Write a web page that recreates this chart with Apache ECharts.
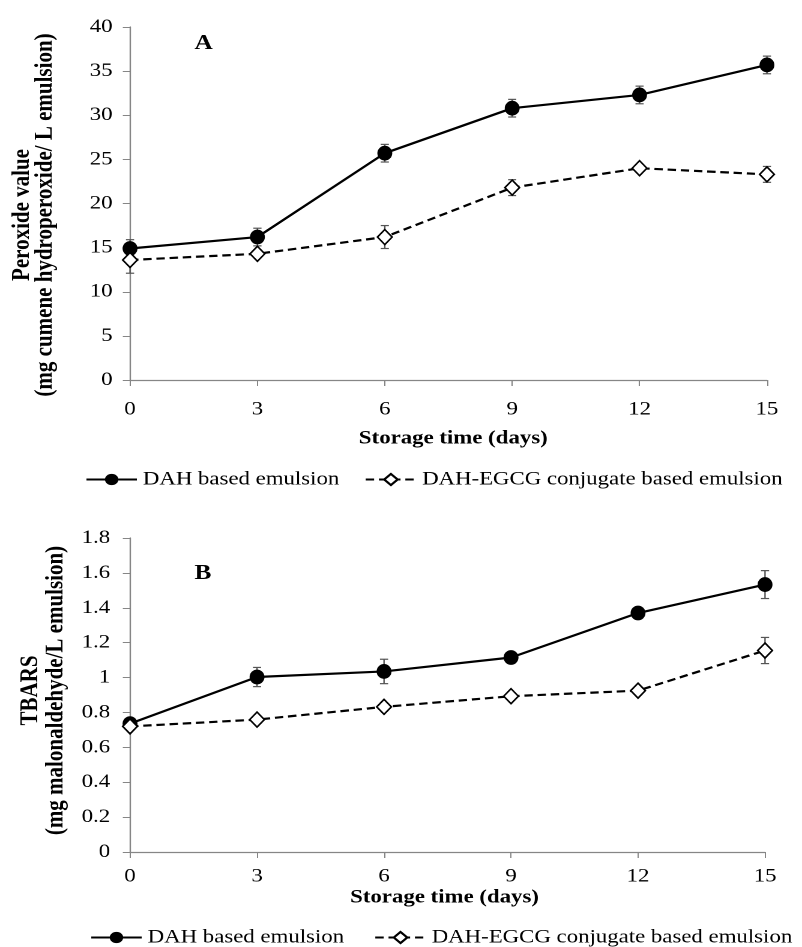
<!DOCTYPE html>
<html>
<head>
<meta charset="utf-8">
<script src="https://cdn.jsdelivr.net/npm/echarts@6/dist/echarts.min.js"></script>
<style>
  html, body { margin: 0; padding: 0; background: #fff; overflow: hidden; }
  /* The figure is drawn narrower and widened by the same factor, which gives
     the wide serif lettering of the printed figure. */
  #chart { width: 668px; height: 947px; transform: scaleX(1.2006); transform-origin: 0 0; }
</style>
</head>
<body>
<div id="chart"></div>
<script>
// Storage days
const days = [0, 3, 6, 9, 12, 15];
const xTicks = [0, 3, 6, 9, 12, 15];

// Peroxide value (mg cumene hydroperoxide / L emulsion)
const pvDAH = [14.9, 16.2, 25.7, 30.8, 32.3, 35.7];
const pvDAHErr = [1.0, 1.0, 1.0, 1.0, 1.0, 1.0];
const pvConj = [13.6, 14.3, 16.2, 21.8, 24.0, 23.3];
const pvConjErr = [1.5, 0.4, 1.3, 0.9, 0.3, 0.9];

// TBARS (mg malonaldehyde / L emulsion)
const tbDAH = [0.736, 1.003, 1.035, 1.115, 1.37, 1.533];
const tbDAHErr = [0.03, 0.055, 0.07, 0.02, 0.02, 0.08];
const tbConj = [0.72, 0.759, 0.832, 0.893, 0.925, 1.155];
const tbConjErr = [0.02, 0.02, 0.02, 0.02, 0.02, 0.075];

const nameDAH = 'DAH based emulsion';
const nameConj = 'DAH-EGCG conjugate based emulsion';

const FONT = "'Liberation Serif', 'Times New Roman', serif";
const AXIS_COLOR = '#868686';
const TEXT_COLOR = '#000';

function pairs(vals) { return days.map((d, i) => [d, vals[i]]); }
function ranges(vals, errs) { return days.map((d, i) => [d, vals[i] - errs[i], vals[i] + errs[i]]); }

function renderErrorBar(params, api) {
  const x = api.value(0);
  const lo = api.coord([x, api.value(1)]);
  const hi = api.coord([x, api.value(2)]);
  const half = 3.4;
  const style = { stroke: '#555', lineWidth: 1.2 };
  return {
    type: 'group',
    children: [
      { type: 'line', shape: { x1: lo[0], y1: lo[1], x2: hi[0], y2: hi[1] }, style },
      { type: 'line', shape: { x1: lo[0] - half, y1: lo[1], x2: lo[0] + half, y2: lo[1] }, style },
      { type: 'line', shape: { x1: hi[0] - half, y1: hi[1], x2: hi[0] + half, y2: hi[1] }, style }
    ]
  };
}

function xAxisFor(gridIndex, gap, labelMargin, namePad) {
  return {
    type: 'value', gridIndex, min: 0, max: 15, interval: 3,
    name: 'Storage time (days)', nameLocation: 'middle', nameGap: gap,
    nameTextStyle: { fontFamily: FONT, fontSize: 19, fontWeight: 'bold', color: TEXT_COLOR, padding: namePad },
    axisLine: { lineStyle: { color: AXIS_COLOR, width: 1.2 } },
    axisTick: { show: true, inside: false, length: 6, lineStyle: { color: AXIS_COLOR } },
    axisLabel: { fontFamily: FONT, fontSize: 19, color: TEXT_COLOR, margin: labelMargin,
      customValues: xTicks },
    splitLine: { show: false }
  };
}

function yAxisFor(gridIndex, max, interval, name, gap, lineH, pad, labelMargin) {
  return {
    type: 'value', gridIndex, min: 0, max, interval,
    name, nameLocation: 'middle', nameGap: gap, nameRotate: 90,
    nameTextStyle: { fontFamily: FONT, fontSize: 21, fontWeight: 'bold', color: TEXT_COLOR,
      lineHeight: lineH, padding: pad },
    axisLine: { show: true, lineStyle: { color: AXIS_COLOR, width: 1.2 } },
    axisTick: { show: true, inside: false, length: 6, lineStyle: { color: AXIS_COLOR } },
    axisLabel: { fontFamily: FONT, fontSize: 19, color: TEXT_COLOR, margin: labelMargin },
    splitLine: { show: false }
  };
}

function lineSeries(name, data, xi, yi, filled) {
  return {
    type: 'line', name, xAxisIndex: xi, yAxisIndex: yi, data,
    symbol: filled ? 'circle' : 'diamond',
    symbolSize: filled ? [12.4, 14.8] : [12.2, 15],
    showAllSymbol: true,
    lineStyle: { color: '#000', width: 2.2, type: filled ? 'solid' : [7, 4] },
    itemStyle: { color: filled ? '#000' : '#fff', borderColor: '#000', borderWidth: filled ? 0 : 1.5 },
    z: 3, animation: false
  };
}

function errSeries(data, xi, yi) {
  return {
    type: 'custom', xAxisIndex: xi, yAxisIndex: yi, data,
    renderItem: renderErrorBar, encode: { x: 0, y: [1, 2] },
    z: 2, silent: true, animation: false
  };
}

function legendAt(left, top, gap) {
  return {
    left, top, width: 640, itemGap: gap, itemWidth: 42, itemHeight: 14, padding: 0,
    textStyle: { fontFamily: FONT, fontSize: 19, color: TEXT_COLOR },
    data: [nameDAH, nameConj], selectedMode: false
  };
}

const chart = echarts.init(document.getElementById('chart'), null, { renderer: 'canvas', devicePixelRatio: 2 });
chart.setOption({
  backgroundColor: '#fff',
  animation: false,
  title: [
    { text: 'A', left: 157, top: 28, textStyle: { fontFamily: FONT, fontSize: 21, fontWeight: 'bold', color: '#000' } },
    { text: 'B', left: 157, top: 558, textStyle: { fontFamily: FONT, fontSize: 21, fontWeight: 'bold', color: '#000' } }
  ],
  legend: [legendAt(71, 470, 21), legendAt(75, 928, 25)],
  grid: [
    { left: 108.3, right: 29.2, top: 27, bottom: 567, containLabel: false, outerBoundsMode: 'none' },
    { left: 108.3, right: 30.8, top: 538, bottom: 95, containLabel: false, outerBoundsMode: 'none' }
  ],
  xAxis: [xAxisFor(0, 49, 20, [0, 0, 0, 8]), xAxisFor(1, 36, 15, [0, 5, 0, 0])],
  yAxis: [
    yAxisFor(0, 40, 5, 'Peroxide value\n(mg cumene hydroperoxide/ L emulsion)', 61.4, 19, [0, 23, 0, 0], 14.5),
    yAxisFor(1, 1.8, 0.2, 'TBARS\n(mg malonaldehyde/L emulsion)', 49.4, 21, [0, 0, 0, 9], 16.5)
  ],
  series: [
    errSeries(ranges(pvDAH, pvDAHErr), 0, 0),
    errSeries(ranges(pvConj, pvConjErr), 0, 0),
    lineSeries(nameDAH, pairs(pvDAH), 0, 0, true),
    lineSeries(nameConj, pairs(pvConj), 0, 0, false),
    errSeries(ranges(tbDAH, tbDAHErr), 1, 1),
    errSeries(ranges(tbConj, tbConjErr), 1, 1),
    lineSeries(nameDAH, pairs(tbDAH), 1, 1, true),
    lineSeries(nameConj, pairs(tbConj), 1, 1, false)
  ]
});
</script>
</body>
</html>
